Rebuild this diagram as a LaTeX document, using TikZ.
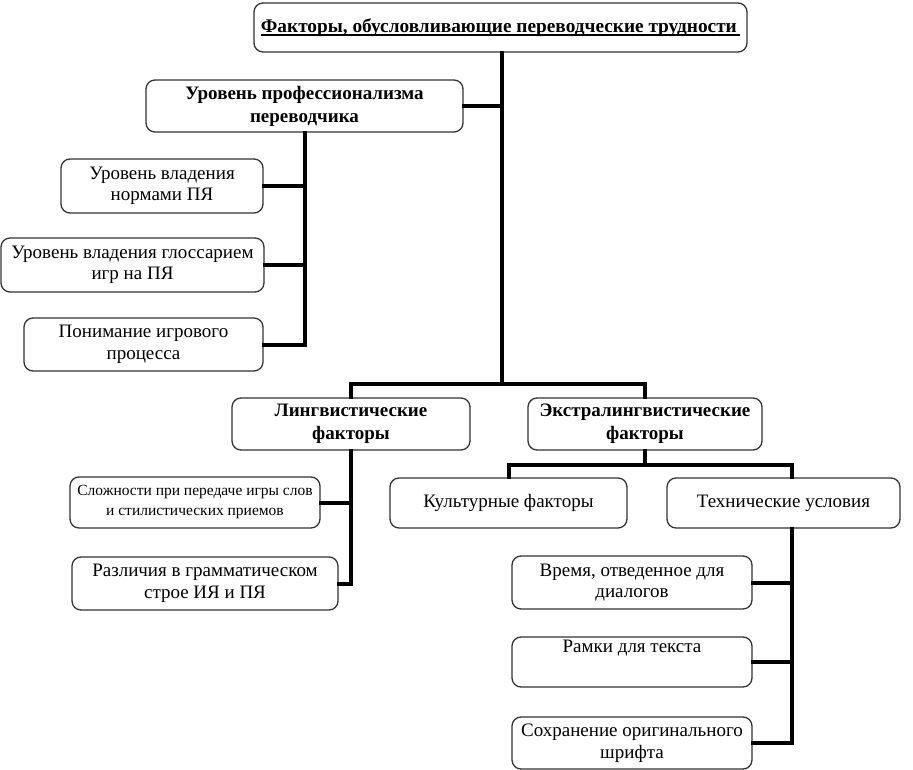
\documentclass[tikz,border=0pt]{standalone}
\usepackage{fontspec}
\setmainfont{Liberation Serif}
\usetikzlibrary{calc}
\newcommand{\thickul}[1]{\setbox0\hbox{#1}\rlap{\rule[-4pt]{\wd0}{2.6pt}}\box0}
\tikzset{
  box/.style={draw=black!80, line width=1.3pt, rounded corners=9pt, align=center, inner sep=0pt, fill=white},
  conn/.style={line width=4pt, line join=miter, line cap=rect},
  txt/.style={font=\fontsize{19}{21.5}\selectfont},
  btxt/.style={font=\fontsize{19}{23}\selectfont\bfseries},
  stxt/.style={font=\fontsize{15.5}{20}\selectfont},
}
\begin{document}
\begin{tikzpicture}[x=1pt,y=-1pt]
\useasboundingbox (0,0) rectangle (913,770);
% nodes
\node[box, minimum width=493pt, minimum height=49pt, font=\fontsize{19.3}{21}\selectfont\bfseries] (top) at (500.5,27.5) {\thickul{Факторы, обусловливающие переводческие трудности\,}};
\node[box, btxt, minimum width=317pt, minimum height=52pt] (prof) at (304.5,106) {Уровень профессионализма\\переводчика};
\node[box, txt, minimum width=202pt, minimum height=54pt] (n1) at (162,186) {Уровень владения\\нормами ПЯ};
\node[box, txt, minimum width=263pt, minimum height=54pt] (n2) at (132.5,265) {Уровень владения глоссарием\\игр на ПЯ};
\node[box, txt, minimum width=239pt, minimum height=53pt] (n3) at (143.5,344.5) {Понимание игрового\\процесса};
\node[box, btxt, minimum width=238pt, minimum height=52pt] (ling) at (351,424) {Лингвистические\\факторы};
\node[box, btxt, minimum width=234pt, minimum height=52pt] (extra) at (645,424) {Экстралингвистические\\факторы};
\node[box, stxt, minimum width=250pt, minimum height=51pt] (s1) at (195,502.5) {Сложности при передаче игры слов\\и стилистических приемов};
\node[box, txt, minimum width=266pt, minimum height=53pt] (s2) at (205,583.5) {Различия в грамматическом\\строе ИЯ и ПЯ};
\node[box, txt, minimum width=237pt, minimum height=50pt] (cult) at (508.5,503) {Культурные факторы};
\node[box, txt, minimum width=233pt, minimum height=50pt] (tech) at (783.5,503) {Технические условия};
\node[box, txt, minimum width=240pt, minimum height=53pt] (t1) at (632,582.5) {Время, отведенное для\\диалогов};
\node[box, txt, minimum width=240pt, minimum height=50pt] (t2) at (632,662) {};
\node[txt, anchor=north, inner sep=0pt] (t2l) at ($(t2.north)+(0,4)$) {Рамки для текста};
\node[box, txt, minimum width=240pt, minimum height=52pt] (t3) at (632,743) {Сохранение оригинального\\шрифта};
% junctions
\coordinate (j0) at (502,384);
\coordinate (j1) at (647,465);
\coordinate (tx) at (792,0);
% connectors
\draw[conn] (top.south -| j0) -- (j0);
\draw[conn] (prof.east) -- (prof.east -| j0);
\draw[conn] (ling.north) -- (ling.north |- j0) -- (extra.north |- j0) -- (extra.north);
\draw[conn] (prof.south) -- (prof.south |- n3.east) -- (n3.east);
\draw[conn] (n1.east) -- (n1.east -| prof.south);
\draw[conn] (n2.east) -- (n2.east -| prof.south);
\draw[conn] (ling.south) -- (ling.south |- s2.east) -- (s2.east);
\draw[conn] (s1.east) -- (s1.east -| ling.south);
\draw[conn] (extra.south) -- (extra.south |- j1);
\draw[conn] (cult.north) -- (cult.north |- j1) -- (j1 -| tx) -- (tech.north -| tx);
\draw[conn] (tech.south -| tx) -- (t3.east -| tx) -- (t3.east);
\draw[conn] (t1.east) -- (t1.east -| tx);
\draw[conn] (t2.east) -- (t2.east -| tx);
\end{tikzpicture}
\end{document}
